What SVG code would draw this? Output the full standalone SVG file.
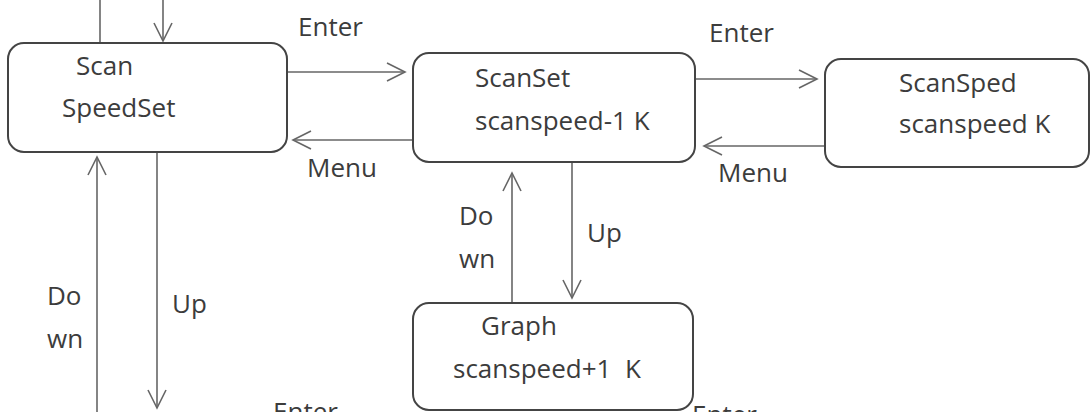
<svg xmlns="http://www.w3.org/2000/svg" width="1092" height="412" viewBox="0 0 1092 412">
<defs>
<style>
.box{fill:#fff;stroke:#444;stroke-width:2}
.lbl{font-family:"Open Sans","Noto Sans",sans-serif;font-size:26px;fill:#3c3c3c}
.ln{stroke:#666;stroke-width:1.6;fill:none}
.arr{marker-end:url(#ah)}
</style>
<marker id="ah" markerUnits="userSpaceOnUse" markerWidth="24" markerHeight="24" viewBox="0 0 24 24" refX="20" refY="12" orient="auto">
<path d="M2,3 L20,12 L2,21" fill="none" stroke="#666" stroke-width="1.6"/>
</marker>
</defs>
<rect width="1092" height="412" fill="#fff"/>
<g id="connectors">
<line class="ln" x1="100" y1="0" x2="100" y2="43"/>
<line class="ln arr" x1="163" y1="0" x2="163" y2="41"/>
<line class="ln arr" x1="287" y1="72" x2="405" y2="72"/>
<line class="ln arr" x1="413" y1="140" x2="293" y2="140"/>
<line class="ln arr" x1="695" y1="79" x2="817" y2="79"/>
<line class="ln arr" x1="825" y1="146" x2="704" y2="146"/>
<line class="ln arr" x1="97" y1="412" x2="97" y2="157"/>
<line class="ln arr" x1="157" y1="152" x2="157" y2="408"/>
<line class="ln arr" x1="572" y1="162" x2="572" y2="298"/>
<line class="ln arr" x1="512" y1="303" x2="512" y2="173"/>
<text class="lbl" x="298" y="36">Enter</text>
<text class="lbl" x="709" y="42">Enter</text>
<text class="lbl" x="307" y="177">Menu</text>
<text class="lbl" x="718" y="182">Menu</text>
<text class="lbl" x="47" y="305">Do</text>
<text class="lbl" x="47" y="348">wn</text>
<text class="lbl" x="172" y="313">Up</text>
<text class="lbl" x="459" y="225">Do</text>
<text class="lbl" x="459" y="268">wn</text>
<text class="lbl" x="587" y="242">Up</text>
<text class="lbl" x="273" y="421">Enter</text>
<text class="lbl" x="692" y="424">Enter</text>
</g>
<g id="scanSpeedSet">
<rect class="box" x="8" y="43" width="279" height="109" rx="16"/>
<text class="lbl" x="76" y="75">Scan</text>
<text class="lbl" x="62" y="117">SpeedSet</text>
</g>
<g id="scanSet">
<rect class="box" x="413" y="53" width="282" height="109" rx="16"/>
<text class="lbl" x="475" y="87">ScanSet</text>
<text class="lbl" x="475" y="130">scanspeed-1 K</text>
</g>
<g id="scanSped">
<rect class="box" x="825" y="59" width="264" height="108" rx="16"/>
<text class="lbl" x="899" y="92">ScanSped</text>
<text class="lbl" x="899" y="133">scanspeed K</text>
</g>
<g id="graph">
<rect class="box" x="413" y="303" width="280" height="107" rx="16"/>
<text class="lbl" x="481" y="335">Graph</text>
<text class="lbl" x="453" y="378" xml:space="preserve">scanspeed+1  K</text>
</g>
</svg>
